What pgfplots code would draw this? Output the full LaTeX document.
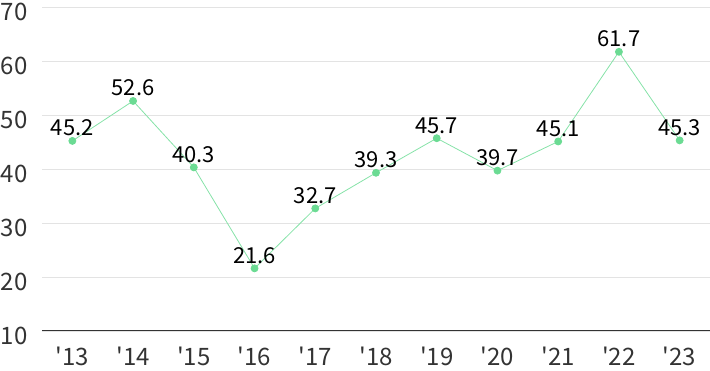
\documentclass[border=0pt]{standalone}
\usepackage{fontspec}
\setmainfont{Noto Sans CJK KR}
\usepackage{pgfplots}
\pgfplotsset{compat=1.18}
\definecolor{gridc}{HTML}{E3E3E3}
\definecolor{linec}{HTML}{86E2A8}
\definecolor{markc}{HTML}{6BDB93}
\definecolor{tickc}{HTML}{333333}
\begin{document}
\begin{tikzpicture}
\path[use as bounding box] (0,0) rectangle (710pt,371pt);
\begin{axis}[
  at={(42pt,40pt)}, anchor=south west,
  scale only axis, width=668pt, height=324pt,
  xmin=-0.5, xmax=10.5, ymin=10, ymax=70,
  xtick={0,...,10},
  xticklabels={\textquotesingle13,\textquotesingle14,\textquotesingle15,\textquotesingle16,\textquotesingle17,\textquotesingle18,\textquotesingle19,\textquotesingle20,\textquotesingle21,\textquotesingle22,\textquotesingle23},
  ytick={10,20,...,70},
  axis x line*=bottom, axis y line*=left,
  y axis line style={draw=none},
  ymajorgrids, grid style={gridc, line width=0.8pt},
  x axis line style={tickc, line width=1pt, -},
  major tick length=0pt,
  /pgf/number format/assume math mode=true,
  xticklabel style={font=\fontsize{24}{24}\selectfont, text=tickc, yshift=-12pt},
  yticklabel style={font=\fontsize{24}{24}\selectfont, text=tickc, anchor=east, xshift=-11pt, yshift=-5pt},
  tick style={draw=none},
  clip=false,
  nodes near coords={\pgfplotspointmeta},
  point meta=explicit symbolic,
  every node near coord/.style={font=\fontsize{22}{22}\selectfont, text=black, anchor=south, yshift=1pt},
]
\addplot[linec, line width=0.8pt, mark=*, mark size=3.5pt, mark options={draw=markc, fill=markc}]
table[meta=lab] {
x y lab
0 45.2 45.2
1 52.6 52.6
2 40.3 40.3
3 21.6 21.6
4 32.7 32.7
5 39.3 39.3
6 45.7 45.7
7 39.7 39.7
8 45.1 45.1
9 61.7 61.7
10 45.3 45.3
};
\end{axis}
\end{tikzpicture}
\end{document}
